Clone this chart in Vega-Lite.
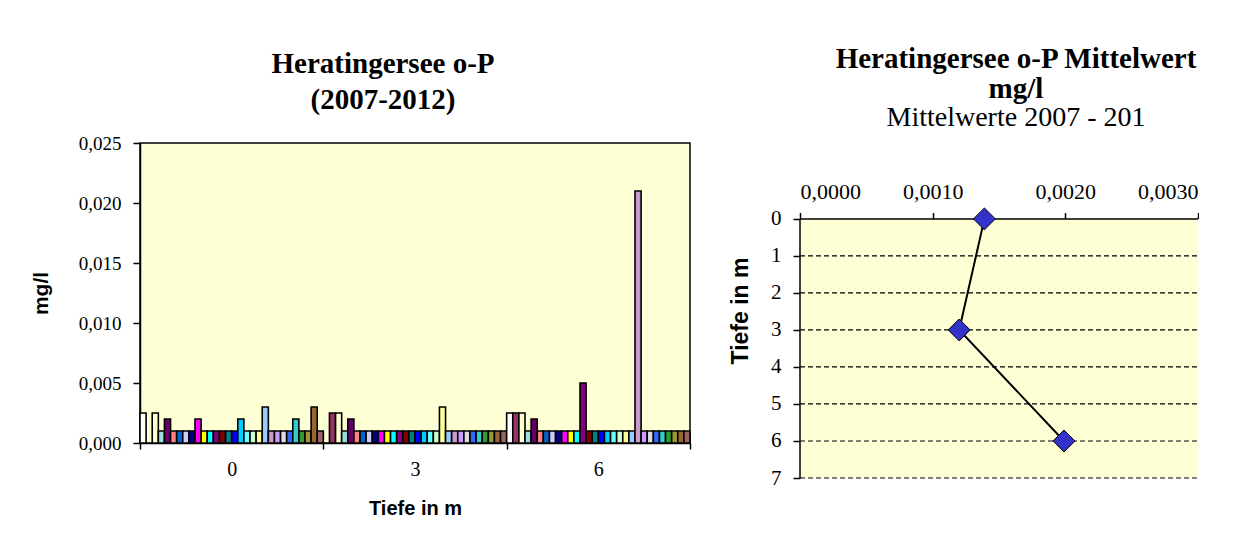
{
  "$schema": "https://vega.github.io/schema/vega-lite/v6.json",
  "padding": {"left": 29, "top": 45, "right": 0, "bottom": 0},
  "background": "white",
  "config": {
    "locale": {"number": {"decimal": ",", "thousands": ".", "grouping": [3], "currency": ["", " €"]}},
    "font": "Liberation Serif",
    "axis": {"domainColor": "black", "tickColor": "black", "labelColor": "black", "titleColor": "black", "labelFont": "Liberation Serif", "titleFont": "Liberation Sans", "titleFontWeight": "bold", "domainWidth": 1.5, "tickWidth": 1.5},
    "title": {"font": "Liberation Serif", "fontWeight": "bold", "color": "black"},
    "concat": {"spacing": 37}
  },
  "datasets": {
    "bars": [
      {"depth": "0", "series": "S01", "value": 0.0025},
      {"depth": "0", "series": "S03", "value": 0.0025},
      {"depth": "0", "series": "S04", "value": 0.001},
      {"depth": "0", "series": "S05", "value": 0.002},
      {"depth": "0", "series": "S06", "value": 0.001},
      {"depth": "0", "series": "S07", "value": 0.001},
      {"depth": "0", "series": "S08", "value": 0.001},
      {"depth": "0", "series": "S09", "value": 0.001},
      {"depth": "0", "series": "S10", "value": 0.002},
      {"depth": "0", "series": "S11", "value": 0.001},
      {"depth": "0", "series": "S12", "value": 0.001},
      {"depth": "0", "series": "S13", "value": 0.001},
      {"depth": "0", "series": "S14", "value": 0.001},
      {"depth": "0", "series": "S15", "value": 0.001},
      {"depth": "0", "series": "S16", "value": 0.001},
      {"depth": "0", "series": "S17", "value": 0.002},
      {"depth": "0", "series": "S18", "value": 0.001},
      {"depth": "0", "series": "S19", "value": 0.001},
      {"depth": "0", "series": "S20", "value": 0.001},
      {"depth": "0", "series": "S21", "value": 0.003},
      {"depth": "0", "series": "S22", "value": 0.001},
      {"depth": "0", "series": "S23", "value": 0.001},
      {"depth": "0", "series": "S24", "value": 0.001},
      {"depth": "0", "series": "S25", "value": 0.001},
      {"depth": "0", "series": "S26", "value": 0.002},
      {"depth": "0", "series": "S27", "value": 0.001},
      {"depth": "0", "series": "S28", "value": 0.001},
      {"depth": "0", "series": "S29", "value": 0.003},
      {"depth": "0", "series": "S30", "value": 0.001},
      {"depth": "3", "series": "S02", "value": 0.0025},
      {"depth": "3", "series": "S03", "value": 0.0025},
      {"depth": "3", "series": "S04", "value": 0.001},
      {"depth": "3", "series": "S05", "value": 0.002},
      {"depth": "3", "series": "S06", "value": 0.001},
      {"depth": "3", "series": "S07", "value": 0.001},
      {"depth": "3", "series": "S08", "value": 0.001},
      {"depth": "3", "series": "S09", "value": 0.001},
      {"depth": "3", "series": "S10", "value": 0.001},
      {"depth": "3", "series": "S11", "value": 0.001},
      {"depth": "3", "series": "S12", "value": 0.001},
      {"depth": "3", "series": "S13", "value": 0.001},
      {"depth": "3", "series": "S14", "value": 0.001},
      {"depth": "3", "series": "S15", "value": 0.001},
      {"depth": "3", "series": "S16", "value": 0.001},
      {"depth": "3", "series": "S17", "value": 0.001},
      {"depth": "3", "series": "S18", "value": 0.001},
      {"depth": "3", "series": "S19", "value": 0.001},
      {"depth": "3", "series": "S20", "value": 0.003},
      {"depth": "3", "series": "S21", "value": 0.001},
      {"depth": "3", "series": "S22", "value": 0.001},
      {"depth": "3", "series": "S23", "value": 0.001},
      {"depth": "3", "series": "S24", "value": 0.001},
      {"depth": "3", "series": "S25", "value": 0.001},
      {"depth": "3", "series": "S26", "value": 0.001},
      {"depth": "3", "series": "S27", "value": 0.001},
      {"depth": "3", "series": "S28", "value": 0.001},
      {"depth": "3", "series": "S29", "value": 0.001},
      {"depth": "3", "series": "S30", "value": 0.001},
      {"depth": "6", "series": "S01", "value": 0.0025},
      {"depth": "6", "series": "S02", "value": 0.0025},
      {"depth": "6", "series": "S03", "value": 0.0025},
      {"depth": "6", "series": "S04", "value": 0.001},
      {"depth": "6", "series": "S05", "value": 0.002},
      {"depth": "6", "series": "S06", "value": 0.001},
      {"depth": "6", "series": "S07", "value": 0.001},
      {"depth": "6", "series": "S08", "value": 0.001},
      {"depth": "6", "series": "S09", "value": 0.001},
      {"depth": "6", "series": "S10", "value": 0.001},
      {"depth": "6", "series": "S11", "value": 0.001},
      {"depth": "6", "series": "S12", "value": 0.001},
      {"depth": "6", "series": "S13", "value": 0.005},
      {"depth": "6", "series": "S14", "value": 0.001},
      {"depth": "6", "series": "S15", "value": 0.001},
      {"depth": "6", "series": "S16", "value": 0.001},
      {"depth": "6", "series": "S17", "value": 0.001},
      {"depth": "6", "series": "S18", "value": 0.001},
      {"depth": "6", "series": "S19", "value": 0.001},
      {"depth": "6", "series": "S20", "value": 0.001},
      {"depth": "6", "series": "S21", "value": 0.001},
      {"depth": "6", "series": "S22", "value": 0.021},
      {"depth": "6", "series": "S23", "value": 0.001},
      {"depth": "6", "series": "S24", "value": 0.001},
      {"depth": "6", "series": "S25", "value": 0.001},
      {"depth": "6", "series": "S26", "value": 0.001},
      {"depth": "6", "series": "S27", "value": 0.001},
      {"depth": "6", "series": "S28", "value": 0.001},
      {"depth": "6", "series": "S29", "value": 0.001},
      {"depth": "6", "series": "S30", "value": 0.001}
    ],
    "means": [
      {"depth": 0, "mean": 0.00139},
      {"depth": 3, "mean": 0.0012},
      {"depth": 6, "mean": 0.00199}
    ],
    "levels": [
      {"depth": 1}, {"depth": 2}, {"depth": 3}, {"depth": 4}, {"depth": 5}, {"depth": 6}, {"depth": 7}
    ],
    "frame": [{"x0": 0, "x1": 0.003, "y0": 0, "y1": 7}]
  },
  "hconcat": [
    {
      "width": 550,
      "height": 300,
      "title": {"text": ["Heratingersee o-P", "(2007-2012)"], "fontSize": 29, "lineHeight": 36, "anchor": "middle", "frame": "group", "dx": -32, "offset": 19},
      "view": {"fill": "#FFFFD6", "stroke": "black", "strokeWidth": 1.5},
      "data": {"name": "bars"},
      "mark": {"type": "bar", "stroke": "black", "strokeWidth": 1.6},
      "encoding": {
        "x": {"field": "depth", "type": "nominal", "sort": ["0", "3", "6"], "scale": {"paddingInner": 0, "paddingOuter": 0},
          "axis": {"title": "Tiefe in m", "labelAngle": 0, "tickBand": "extent", "tickSize": 6, "labelFontSize": 20, "labelPadding": 10, "titleFontSize": 20, "titlePadding": 19, "grid": false}},
        "xOffset": {"field": "series", "type": "nominal", "scale": {"paddingInner": 0, "paddingOuter": 0}},
        "y": {"field": "value", "type": "quantitative", "scale": {"domain": [0, 0.025]},
          "axis": {"title": "mg/l", "format": ".3f", "values": [0, 0.005, 0.01, 0.015, 0.02, 0.025], "tickSize": 7, "labelPadding": 12, "labelFontSize": 19, "titleFontSize": 21, "titlePadding": 27, "grid": false}},
        "color": {"field": "series", "type": "nominal", "legend": null,
          "scale": {"domain": ["S01","S02","S03","S04","S05","S06","S07","S08","S09","S10","S11","S12","S13","S14","S15","S16","S17","S18","S19","S20","S21","S22","S23","S24","S25","S26","S27","S28","S29","S30"],
            "range": ["#FFFFFF","#993366","#FFFFCC","#99DDDD","#660066","#FF8080","#0066CC","#CCCCFF","#000080","#FF00FF","#FFFF00","#00FFFF","#800080","#800000","#008080","#0000FF","#00CCFF","#66FFFF","#CCFFCC","#FFFF99","#99CCFF","#CC99CC","#CC99FF","#DDDDDD","#3366FF","#33CCCC","#339933","#999933","#996633","#996666"]}}
      }
    },
    {
      "width": 398,
      "height": 335,
      "title": {"text": ["Heratingersee o-P Mittelwert", "mg/l"], "subtitle": "Mittelwerte 2007 - 201", "fontSize": 29, "lineHeight": 30, "subtitleFont": "Liberation Serif", "subtitleFontSize": 28, "subtitleFontWeight": "normal", "subtitleColor": "black", "subtitlePadding": 0, "anchor": "middle", "frame": "group", "dx": 17, "offset": 11},
      "view": {"stroke": null},
      "layer": [
        {
          "data": {"name": "frame"},
          "mark": {"type": "rect", "fill": "#FFFFD6"},
          "encoding": {
            "x": {"field": "x0", "type": "quantitative", "scale": {"domain": [0, 0.003], "nice": false, "zero": false},
              "axis": {"orient": "top", "title": null, "format": ".4f", "values": [0, 0.001, 0.002, 0.003], "tickSize": 6, "labelPadding": 9, "labelFontSize": 22, "grid": false, "domain": false, "offset": -75.5}},
            "x2": {"field": "x1"},
            "y": {"field": "y0", "type": "quantitative", "scale": {"domain": [-2.05, 7], "reverse": true, "nice": false, "zero": false},
              "axis": {"title": "Tiefe in m", "values": [0, 1, 2, 3, 4, 5, 6, 7], "tickSize": 7, "labelPadding": 12, "labelFontSize": 21, "titleFontSize": 23, "titlePadding": 18, "grid": false, "domain": false}},
            "y2": {"field": "y1"}
          }
        },
        {
          "data": {"name": "levels"},
          "mark": {"type": "rule", "color": "black", "strokeWidth": 1.2, "strokeDash": [5, 3]},
          "encoding": {
            "x": {"datum": 0, "type": "quantitative"},
            "x2": {"datum": 0.003},
            "y": {"field": "depth", "type": "quantitative"}
          }
        },
        {
          "data": {"name": "frame"},
          "mark": {"type": "rule", "color": "black", "strokeWidth": 1.5},
          "encoding": {
            "x": {"field": "x0", "type": "quantitative"},
            "x2": {"field": "x1"},
            "y": {"field": "y0", "type": "quantitative"}
          }
        },
        {
          "data": {"name": "frame"},
          "mark": {"type": "rule", "color": "black", "strokeWidth": 1.5},
          "encoding": {
            "x": {"field": "x0", "type": "quantitative"},
            "y": {"field": "y0", "type": "quantitative"},
            "y2": {"field": "y1"}
          }
        },
        {
          "data": {"name": "means"},
          "mark": {"type": "line", "color": "black", "strokeWidth": 2},
          "encoding": {
            "x": {"field": "mean", "type": "quantitative"},
            "y": {"field": "depth", "type": "quantitative"},
            "order": {"field": "depth", "type": "quantitative"}
          }
        },
        {
          "data": {"name": "means"},
          "mark": {"type": "point", "shape": "diamond", "filled": true, "fill": "#3333CC", "stroke": "black", "strokeWidth": 1, "size": 480, "opacity": 1},
          "encoding": {
            "x": {"field": "mean", "type": "quantitative"},
            "y": {"field": "depth", "type": "quantitative"}
          }
        }
      ]
    }
  ]
}
